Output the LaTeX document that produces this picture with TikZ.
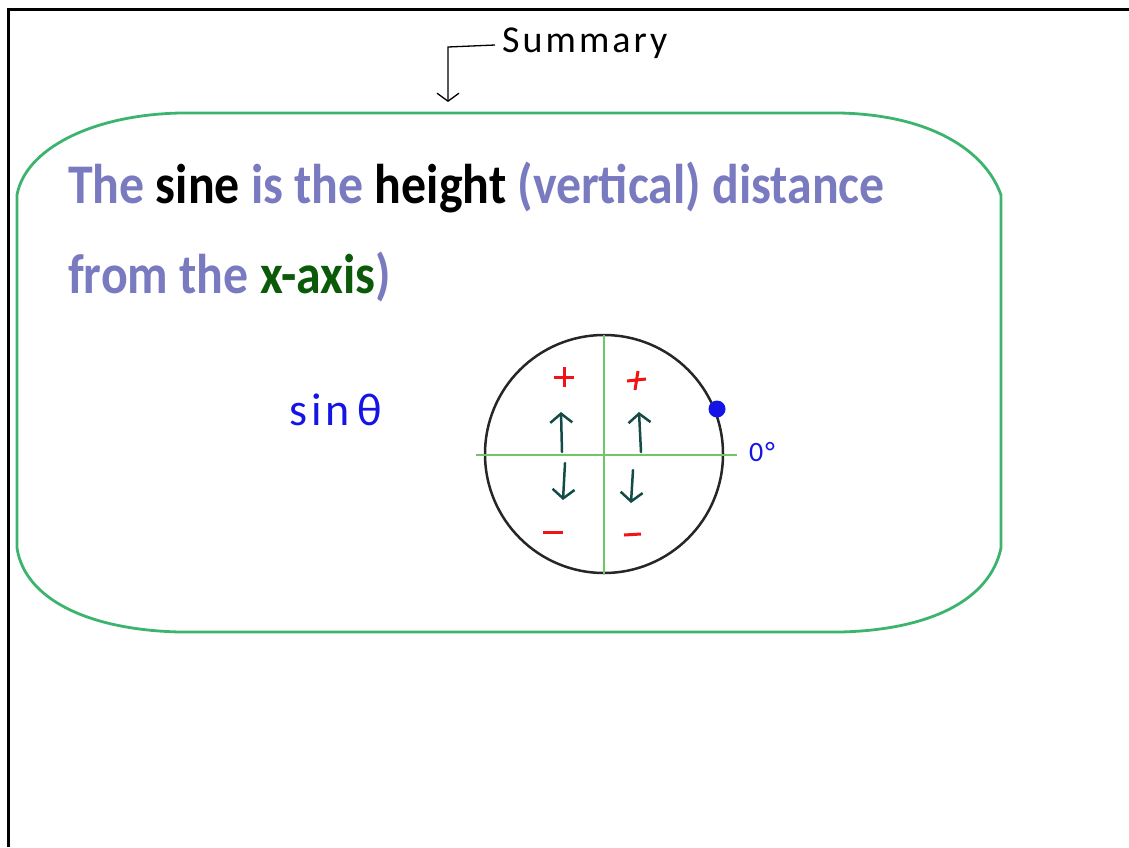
\documentclass[tikz,border=0pt]{standalone}
\usepackage{fontspec}
\setmainfont{Carlito}
\newfontfamily\handfont[FakeStretch=0.89]{Carlito}
\newfontfamily\penfont[LetterSpace=8]{Carlito}
\usetikzlibrary{arrows.meta}
\definecolor{lav}{RGB}{122,122,192}
\definecolor{boxgreen}{RGB}{60,180,110}
\definecolor{axgreen}{RGB}{110,200,100}
\definecolor{dkgreen}{RGB}{10,90,10}
\definecolor{teal}{RGB}{20,75,70}
\definecolor{penblue}{RGB}{20,20,230}
\definecolor{penred}{RGB}{240,20,20}
\tikzset{
  frameline/.style={line width=3pt,black},
  boxline/.style={line width=2.8pt,boxgreen,line join=round},
  axis/.style={line width=1.5pt,axgreen},
  qarrow/.style={line width=2.5pt,teal,line cap=round,-{Straight Barb[length=9pt,width=22pt,line width=2.5pt]}},
  bigtext/.style={anchor=base west,inner sep=0pt,font=\handfont\bfseries\fontsize{56}{60}\selectfont},
  signline/.style={penred,line width=3pt}
}
\begin{document}
\begin{tikzpicture}[x=1pt,y=-1pt]
\useasboundingbox (0,0) rectangle (1129,847);
% frame
\draw[frameline] (8,847) -- (8,9) -- (1129,9);
% summary
\node[font=\penfont\fontsize{38}{40}\selectfont,anchor=base west,inner sep=0pt] (summ) at (502,52) {Summary};
\coordinate (sa) at (495,45);
\coordinate (sb) at (448,47);
\coordinate (sc) at (448,102);
\draw[line width=1.3pt,-{Straight Barb[length=8pt,width=22pt,line width=1.3pt]}] (sa) -- (sb) -- (sc);
% green box
\draw[boxline] (180,113) -- (840,113)
  .. controls (930,115) and (985,150) .. (1001,195)
  -- (1001,548)
  .. controls (990,600) and (930,630) .. (840,632)
  -- (180,632)
  .. controls (90,630) and (25,600) .. (17,548)
  -- (17,195)
  .. controls (25,150) and (90,115) .. (180,113) -- cycle;
% text
\node[bigtext,lav] (l1) at (68,203) {The \textcolor{black}{sine} is the \textcolor{black}{height} (vertical) distance};
\node[bigtext,lav] (l2) at (68,293) {from the \textcolor{dkgreen}{x-axis})};
% sin theta
\node[penblue,font=\penfont\fontsize{46}{48}\selectfont,inner sep=0pt] (sin) at (336,410) {sin\,θ};
% circle
\coordinate (O) at (604,454);
\draw[line width=2.5pt,black!85] (O) circle (119);
\coordinate (xl) at (476,455);
\coordinate (xr) at (737,455);
\coordinate (yt) at (604,335);
\coordinate (yb) at (604,574);
\draw[axis] (xl) -- (xr);
\draw[axis] (yt) -- (yb);
\fill[penblue] (717,409) circle (8.5);
\node[penblue,font=\penfont\fontsize{28}{28}\selectfont,inner sep=0pt] (deg) at (762,452) {0°};
% signs
\draw[signline] (554,377) -- (574,377) (564,367) -- (564,387);
\draw[signline] (627,381) -- (646,379) (638,371) -- (635,390);
\draw[signline] (543,532) -- (563,532);
\draw[signline] (624,535) -- (641,534);
% arrows
\coordinate (a1s) at (562,452); \coordinate (a1e) at (561,412);
\coordinate (a2s) at (641,452); \coordinate (a2e) at (639,412);
\coordinate (a3s) at (565,463); \coordinate (a3e) at (563,500);
\coordinate (a4s) at (633,470); \coordinate (a4e) at (631,503);
\draw[qarrow] (a1s) -- (a1e);
\draw[qarrow] (a2s) -- (a2e);
\draw[qarrow] (a3s) -- (a3e);
\draw[qarrow] (a4s) -- (a4e);
\end{tikzpicture}
\end{document}
